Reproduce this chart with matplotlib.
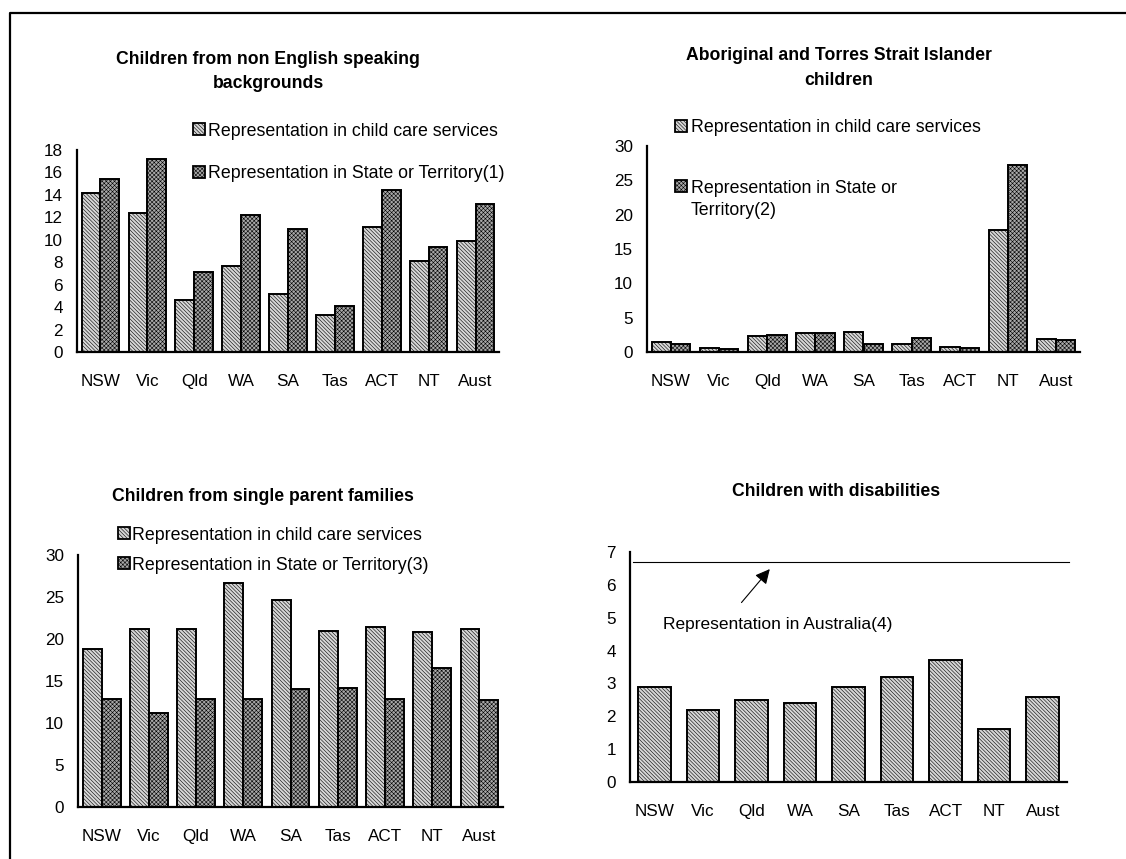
import matplotlib.pyplot as plt
import numpy as np
from matplotlib.patches import Rectangle
from matplotlib.lines import Line2D

plt.rcParams['font.family'] = ['Liberation Sans', 'DejaVu Sans']
plt.rcParams['hatch.linewidth'] = 0.4

states = ["NSW", "Vic", "Qld", "WA", "SA", "Tas", "ACT", "NT", "Aust"]

# per cent of children in each group
nesb_care = [14.2, 12.4, 4.6, 7.7, 5.2, 3.3, 11.1, 8.1, 9.9]
nesb_state = [15.4, 17.2, 7.1, 12.2, 11.0, 4.1, 14.4, 9.4, 13.2]

atsi_care = [1.5, 0.6, 2.4, 2.8, 2.9, 1.2, 0.7, 17.7, 1.9]
atsi_state = [1.2, 0.4, 2.5, 2.8, 1.1, 2.1, 0.6, 27.3, 1.7]

single_care = [18.8, 21.2, 21.2, 26.7, 24.7, 21.0, 21.4, 20.8, 21.2]
single_state = [12.8, 11.2, 12.9, 12.8, 14.0, 14.2, 12.8, 16.6, 12.7]

disab_care = [2.9, 2.2, 2.5, 2.4, 2.9, 3.2, 3.7, 1.6, 2.6]
disab_aust = 6.7

LIGHT = '\\' * 9
DARK = 'x' * 8
LIGHT_FC = '#d6d6d6'
DARK_FC = '#a8a8a8'

W, H = 1126, 859
fig = plt.figure(figsize=(W / 100, H / 100), dpi=100)


def axes_px(left, top, right, bottom):
    return fig.add_axes([left / W, 1 - bottom / H, (right - left) / W, (bottom - top) / H])


def style(ax, ymax, step):
    ax.set_xlim(-0.5, 8.5)
    ax.set_ylim(0, ymax)
    ax.set_yticks(np.arange(0, ymax + 0.01, step))
    ax.set_xticks(range(len(states)))
    ax.set_xticklabels(states)
    for s in ['top', 'right']:
        ax.spines[s].set_visible(False)
    for s in ['left', 'bottom']:
        ax.spines[s].set_linewidth(1.6)
    ax.tick_params(length=0, labelsize=12.3)
    ax.tick_params(axis='x', pad=16)
    ax.tick_params(axis='y', pad=10)


def pair(ax, care, state):
    x = np.arange(len(states))
    ax.bar(x - 0.2, care, 0.4, facecolor=LIGHT_FC, edgecolor='black', hatch=LIGHT, lw=1.4)
    ax.bar(x + 0.2, state, 0.4, facecolor=DARK_FC, edgecolor='black', hatch=DARK, lw=1.4)


def key(x, y, hatch, fc, label, gap=3, dy=0, **kw):
    fig.add_artist(Rectangle((x / W, 1 - (y + 6) / H), 12 / W, 12 / H, transform=fig.transFigure,
                             facecolor=fc, edgecolor='black', hatch=hatch, lw=1.3))
    fig.text((x + 12 + gap) / W, 1 - (y + dy) / H, label, fontsize=12.8, va='center_baseline',
             ha='left', **kw)


def title(x, y, s):
    fig.text(x / W, 1 - y / H, s, fontsize=12.7, fontweight='bold', ha='center', va='center',
             linespacing=1.55)


# non English speaking backgrounds
ax1 = axes_px(77, 150, 499, 352)
pair(ax1, nesb_care, nesb_state)
style(ax1, 18, 2)
title(268, 71.5, "Children from non English speaking\nbackgrounds")
key(193, 129, LIGHT, LIGHT_FC, "Representation in child care services")
key(193, 172, DARK, DARK_FC, "Representation in State or Territory(1)")

# Aboriginal and Torres Strait Islander
ax2 = axes_px(647, 146, 1080, 352)
pair(ax2, atsi_care, atsi_state)
style(ax2, 30, 5)
title(839, 68, "Aboriginal and Torres Strait Islander\nchildren")
key(675, 126, LIGHT, LIGHT_FC, "Representation in child care services", gap=4)
key(675, 186, DARK, DARK_FC, "Representation in State or\nTerritory(2)", gap=4, dy=9,
    linespacing=1.4)

# single parent families
ax3 = axes_px(78, 555, 503, 807)
pair(ax3, single_care, single_state)
style(ax3, 30, 5)
title(263, 496, "Children from single parent families")
key(118, 533, LIGHT, LIGHT_FC, "Representation in child care services", gap=2)
key(118, 563, DARK, DARK_FC, "Representation in State or Territory(3)", gap=2)

# disabilities
ax4 = axes_px(630, 552, 1067, 782)
ax4.bar(np.arange(len(states)), disab_care, 0.67, facecolor=LIGHT_FC, edgecolor='black',
        hatch=LIGHT, lw=1.4)
style(ax4, 7, 1)
ax4.axhline(disab_aust, xmin=0.006, xmax=1.005, color='black', lw=0.8, clip_on=False)
ax4.annotate('', xy=(0.324, 0.935), xytext=(0.251, 0.771), xycoords='axes fraction',
             arrowprops=dict(arrowstyle='-|>', mutation_scale=22, color='black', lw=0.8))
ax4.text(0.0756, 0.686, "Representation in Australia(4)", transform=ax4.transAxes,
         fontsize=12.5, va='center', ha='left')
title(836, 492, "Children with disabilities")

# frame round the page
fig.add_artist(Line2D([10 / W, 10 / W, 1], [0, 1 - 13 / H, 1 - 13 / H], transform=fig.transFigure,
                      color='black', lw=1.6))

fig.savefig("out.png", dpi=100)
